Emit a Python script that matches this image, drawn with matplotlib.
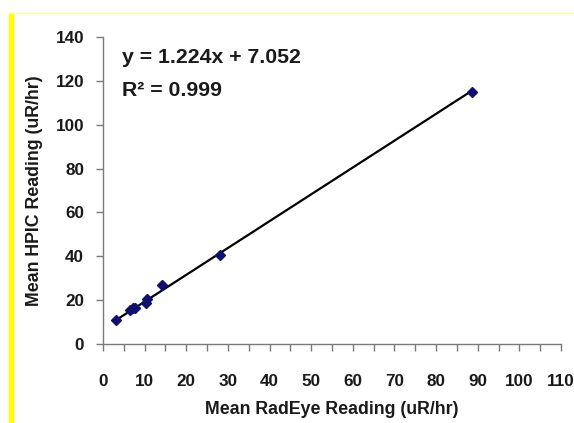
import matplotlib
matplotlib.use("Agg")
import matplotlib.pyplot as plt
from matplotlib.patches import Rectangle
from matplotlib.lines import Line2D
import numpy as np

plt.rcParams['font.family'] = ['Liberation Sans', 'DejaVu Sans']
plt.rcParams['font.weight'] = 'bold'

# Mean readings (uR/hr)
radeye = [3.2, 6.6, 7.2, 7.8, 10.4, 10.6, 14.2, 28.2, 88.6]
hpic = [11.0, 15.3, 16.2, 16.4, 18.7, 20.7, 26.9, 40.6, 114.8]

# Linear fit reported on the chart
slope = 1.224
intercept = 7.052
r_squared = 0.999

x_ticks = list(range(0, 111, 10))
y_ticks = list(range(0, 141, 20))

fig = plt.figure(figsize=(5.74, 4.23), dpi=100)
ax = fig.add_axes([0.1794, 0.1868, 0.798, 0.7257])

# trendline over the data range
xs = np.array([min(radeye), max(radeye)])
ax.plot(xs, slope * xs + intercept, color='black', lw=1.6, zorder=2)
ax.plot(radeye, hpic, linestyle='none', marker='D', ms=5,
        color='#101070', zorder=3)

ax.set_xlim(0, 110)
ax.set_ylim(0, 140)
ax.set_xticks(x_ticks)
ax.set_xticks(list(range(5, 111, 10)), minor=True)
ax.set_yticks(y_ticks)

for s in ['top', 'right']:
    ax.spines[s].set_visible(False)
for s in ['left', 'bottom']:
    ax.spines[s].set_color('#7a7a7a')
    ax.spines[s].set_linewidth(1.0)

ax.tick_params(axis='both', which='both', direction='out', length=5,
               width=1.0, color='#7a7a7a', labelsize=12.3,
               labelcolor='#1a1a1a')
ax.tick_params(axis='x', pad=16.5)
ax.tick_params(axis='y', pad=8.5)
for lbl in ax.get_xticklabels() + ax.get_yticklabels():
    lbl.set_fontweight('bold')

ax.set_xlabel('Mean RadEye Reading (uR/hr)', fontsize=12.8,
              fontweight='bold', color='#1a1a1a', labelpad=9)
ax.set_ylabel('Mean HPIC Reading (uR/hr)', fontsize=12.8,
              fontweight='bold', color='#1a1a1a', labelpad=9)

ax.text(0.041, 0.932, f'y = {slope:.3f}x + {intercept:.3f}',
        transform=ax.transAxes, fontsize=15.3, fontweight='bold',
        color='#1a1a1a', va='center', ha='left')
ax.text(0.041, 0.827, f'R\u00b2 = {r_squared:.3f}',
        transform=ax.transAxes, fontsize=15.3, fontweight='bold',
        color='#1a1a1a', va='center', ha='left')

# yellow frame edges on the page
fig.patches.append(Rectangle((9 / 574, 0), 4 / 574, 1 - 13 / 423,
                             transform=fig.transFigure, color='#ffff00',
                             zorder=0))
fig.lines.append(Line2D([9 / 574, 1], [1 - 13.5 / 423, 1 - 13.5 / 423],
                        transform=fig.transFigure, color='#ffff99', lw=1))

fig.savefig('out.png', dpi=100)
